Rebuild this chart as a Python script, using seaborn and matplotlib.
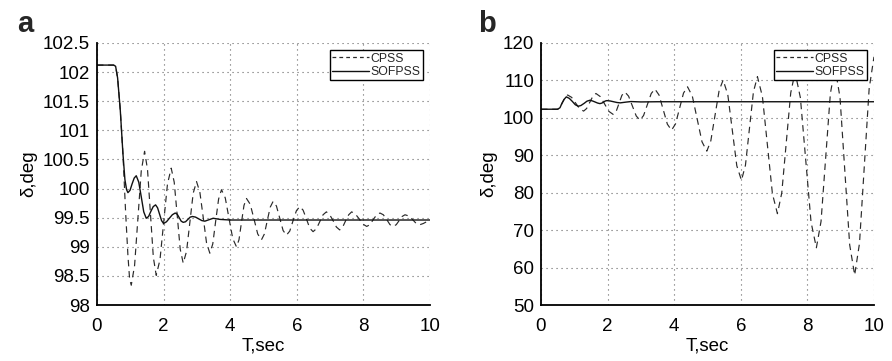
import matplotlib
matplotlib.use("Agg")
import matplotlib.pyplot as plt
import seaborn as sns
import pandas as pd
from matplotlib.ticker import FuncFormatter
from matplotlib.lines import Line2D

# ---------------- data ----------------
series_names = ["CPSS", "SOFPSS"]

a_cpss_t = [0, 0.5, 0.56, 0.62, 0.7, 0.78, 0.86, 0.93, 0.98, 1.03,
            1.13, 1.23, 1.33, 1.43, 1.518, 1.605, 1.693, 1.78,
            1.893, 2.005, 2.118, 2.23, 2.32, 2.41, 2.5, 2.59,
            2.69, 2.79, 2.89, 2.99, 3.09, 3.19, 3.29, 3.39,
            3.478, 3.565, 3.653, 3.74, 3.853, 3.965, 4.078, 4.19,
            4.265, 4.34, 4.415, 4.49, 4.603, 4.715, 4.828, 4.94,
            5.028, 5.115, 5.203, 5.29, 5.39, 5.49, 5.59, 5.69,
            5.79, 5.89, 5.99, 6.09, 6.19, 6.29, 6.39, 6.49,
            6.59, 6.69, 6.79, 6.89, 6.99, 7.09, 7.19, 7.29,
            7.38, 7.47, 7.56, 7.65, 7.763, 7.875, 7.988, 8.1,
            8.2, 8.3, 8.4, 8.5, 8.6, 8.7, 8.8, 8.9,
            8.988, 9.075, 9.163, 9.25, 9.363, 9.475, 9.588, 9.7,
            9.8, 9.9, 10.0]
a_cpss_v = [102.12, 102.12, 102.1, 101.9, 101.35, 100.6, 99.6, 98.85, 98.45, 98.34,
            98.68, 99.49, 100.30, 100.64, 100.33, 99.58, 98.82, 98.51,
            98.78, 99.43, 100.08, 100.35, 100.11, 99.54, 98.96, 98.72,
            98.92, 99.42, 99.92, 100.12, 99.94, 99.51, 99.07, 98.89,
            99.05, 99.44, 99.82, 99.98, 99.84, 99.49, 99.14, 99.0,
            99.12, 99.42, 99.71, 99.83, 99.73, 99.48, 99.22, 99.12,
            99.22, 99.45, 99.68, 99.78, 99.70, 99.49, 99.28, 99.2,
            99.27, 99.45, 99.62, 99.69, 99.63, 99.48, 99.32, 99.26,
            99.31, 99.43, 99.55, 99.6, 99.55, 99.45, 99.34, 99.29,
            99.34, 99.45, 99.55, 99.6, 99.56, 99.48, 99.39, 99.35,
            99.38, 99.47, 99.55, 99.58, 99.55, 99.47, 99.38, 99.35,
            99.38, 99.45, 99.52, 99.55, 99.53, 99.47, 99.40, 99.38,
            99.40, 99.43, 99.46]

a_sof_t = [0, 0.5, 0.56, 0.62, 0.7, 0.78, 0.84, 0.89, 0.93,
           0.993, 1.055, 1.118, 1.18, 1.255, 1.33, 1.405, 1.48,
           1.55, 1.62, 1.69, 1.76, 1.82, 1.88, 1.94, 2.0,
           2.088, 2.175, 2.263, 2.35, 2.41, 2.47, 2.53, 2.59,
           2.66, 2.73, 2.8, 2.87, 2.96, 3.055, 3.15, 3.24,
           3.365, 3.49, 3.7, 4.0, 10.0]
a_sof_v = [102.12, 102.12, 102.1, 101.9, 101.35, 100.6, 100.15, 99.98, 99.93,
           99.97, 100.08, 100.18, 100.22, 100.11, 99.86, 99.6, 99.49,
           99.52, 99.61, 99.69, 99.72, 99.67, 99.56, 99.45, 99.40,
           99.43, 99.49, 99.55, 99.58, 99.56, 99.5, 99.44, 99.42,
           99.43, 99.47, 99.51, 99.52, 99.51, 99.48, 99.45, 99.44,
           99.465, 99.49, 99.47, 99.46, 99.46]

b_cpss_t = [0, 0.5, 0.575, 0.65, 0.725, 0.8, 0.92, 1.04, 1.16, 1.28,
            1.37, 1.465, 1.56, 1.65, 1.78, 1.91, 2.04, 2.17,
            2.26, 2.345, 2.43, 2.52, 2.63, 2.745, 2.86, 2.97,
            3.08, 3.195, 3.31, 3.42, 3.545, 3.67, 3.795, 3.92,
            4.04, 4.16, 4.28, 4.4, 4.545, 4.69, 4.835, 4.98,
            5.10, 5.225, 5.35, 5.47, 5.61, 5.745, 5.88, 6.02,
            6.14, 6.26, 6.38, 6.5, 6.65, 6.8, 6.95, 7.1,
            7.23, 7.365, 7.5, 7.63, 7.79, 7.95, 8.11, 8.27,
            8.41, 8.55, 8.69, 8.83, 8.98, 9.125, 9.27, 9.42,
            9.565, 9.71, 9.855, 10.0]
b_cpss_v = [102.3, 102.3, 102.85, 104.2, 105.55, 106.1, 105.47, 103.95, 102.43, 101.8,
            102.49, 104.15, 105.81, 106.5, 105.68, 103.7, 101.72, 100.9,
            101.78, 103.9, 106.02, 106.9, 105.8, 103.15, 100.5, 99.4,
            100.61, 103.55, 106.49, 107.7, 106.09, 102.2, 98.31, 96.7,
            98.39, 102.5, 106.61, 108.3, 105.79, 99.7, 93.61, 91.1,
            93.87, 100.6, 107.33, 110.1, 106.19, 96.7, 87.21, 83.3,
            87.34, 97.15, 106.96, 111.0, 105.66, 92.7, 79.74, 74.4,
            79.92, 93.3, 106.68, 112.2, 105.35, 88.75, 72.15, 65.3,
            72.34, 89.4, 106.46, 113.5, 105.4, 85.75, 66.1, 58.0,
            66.5, 87.15, 107.8, 116.3]

b_sof_t = [0, 0.5, 0.57, 0.63, 0.70, 0.76, 0.85, 0.94, 1.03, 1.12,
           1.2, 1.3, 1.38, 1.47, 1.55, 1.62, 1.7, 1.77,
           1.83, 1.88, 1.93, 1.98, 2.08, 2.18, 2.28, 2.38,
           2.55, 2.7, 3.0, 3.5, 10.0]
b_sof_v = [102.3, 102.3, 102.7, 103.9, 105.0, 105.6, 105.2, 104.4, 103.5, 103.1,
           103.3, 103.9, 104.45, 104.7, 104.5, 104.25, 103.95, 103.8,
           103.95, 104.2, 104.5, 104.6, 104.5, 104.3, 104.1, 104.0,
           104.2, 104.35, 104.25, 104.3, 104.3]

x_ticks = [0, 2, 4, 6, 8, 10]
a_y_ticks = [98, 98.5, 99, 99.5, 100, 100.5, 101, 101.5, 102, 102.5]
b_y_ticks = [50, 60, 70, 80, 90, 100, 110, 120]
panel_labels = ["a", "b"]
x_label = "T,sec"
y_label = "δ,deg"

# ---------------- plotting ----------------
sns.set_theme(style="white")
plt.rcParams["font.family"] = ["Liberation Sans", "DejaVu Sans"]

fig = plt.figure(figsize=(8.92, 3.61), dpi=100)
ax_a = fig.add_axes([0.1087, 0.155, 0.3733, 0.726])
ax_b = fig.add_axes([0.6065, 0.155, 0.3733, 0.726])

panels = [
    (ax_a, a_cpss_t, a_cpss_v, a_sof_t, a_sof_v, a_y_ticks, (98, 102.5)),
    (ax_b, b_cpss_t, b_cpss_v, b_sof_t, b_sof_v, b_y_ticks, (50, 120)),
]

fmt = FuncFormatter(lambda v, p: "%g" % v)

for i, (ax, ct, cv, st, sv, yt, ylim) in enumerate(panels):
    df_c = pd.DataFrame({"t": ct, "v": cv})
    df_s = pd.DataFrame({"t": st, "v": sv})
    sns.lineplot(data=df_c, x="t", y="v", ax=ax, color="#2a2a2a", lw=0.85,
                 dashes=False, estimator=None, sort=False)
    ax.lines[-1].set_dashes([5.5, 4])
    sns.lineplot(data=df_s, x="t", y="v", ax=ax, color="#111111", lw=1.0,
                 estimator=None, sort=False)
    ax.set_xlim(0, 10)
    ax.set_ylim(*ylim)
    ax.set_xticks(x_ticks)
    ax.set_yticks(yt)
    ax.yaxis.set_major_formatter(fmt)
    ax.xaxis.set_major_formatter(fmt)
    ax.grid(True, linestyle=(0, (1, 3.5)), color="#666666", lw=0.8)
    for s in ["top", "right"]:
        ax.spines[s].set_visible(False)
    for s in ["left", "bottom"]:
        ax.spines[s].set_color("black")
        ax.spines[s].set_linewidth(1.3)
    ax.tick_params(axis="both", labelsize=13.5, length=0, colors="black")
    ax.tick_params(axis="x", pad=9)
    ax.tick_params(axis="y", pad=5)
    ax.set_xlabel(x_label, fontsize=13.5, labelpad=2, color="black")
    ax.set_ylabel(y_label, fontsize=13.5, labelpad=4, color="black")
    handles = [Line2D([], [], color="#2a2a2a", lw=0.9, dashes=[3, 2.5]),
               Line2D([], [], color="#111111", lw=1.0)]
    leg = ax.legend(handles, series_names, loc="upper right", fontsize=8.8,
                    handlelength=3.0, handletextpad=0.1, borderpad=0.2,
                    labelspacing=0.1, borderaxespad=0.6, frameon=True,
                    fancybox=False, framealpha=1)
    leg.get_frame().set_edgecolor("black")
    leg.get_frame().set_linewidth(1.0)

fig.text(25 / 892, 1 - 24 / 361, panel_labels[0], fontsize=21, fontweight="bold",
         ha="center", va="center")
fig.text(487 / 892, 1 - 24 / 361, panel_labels[1], fontsize=21, fontweight="bold",
         ha="center", va="center")

fig.savefig("out.png", dpi=100)
